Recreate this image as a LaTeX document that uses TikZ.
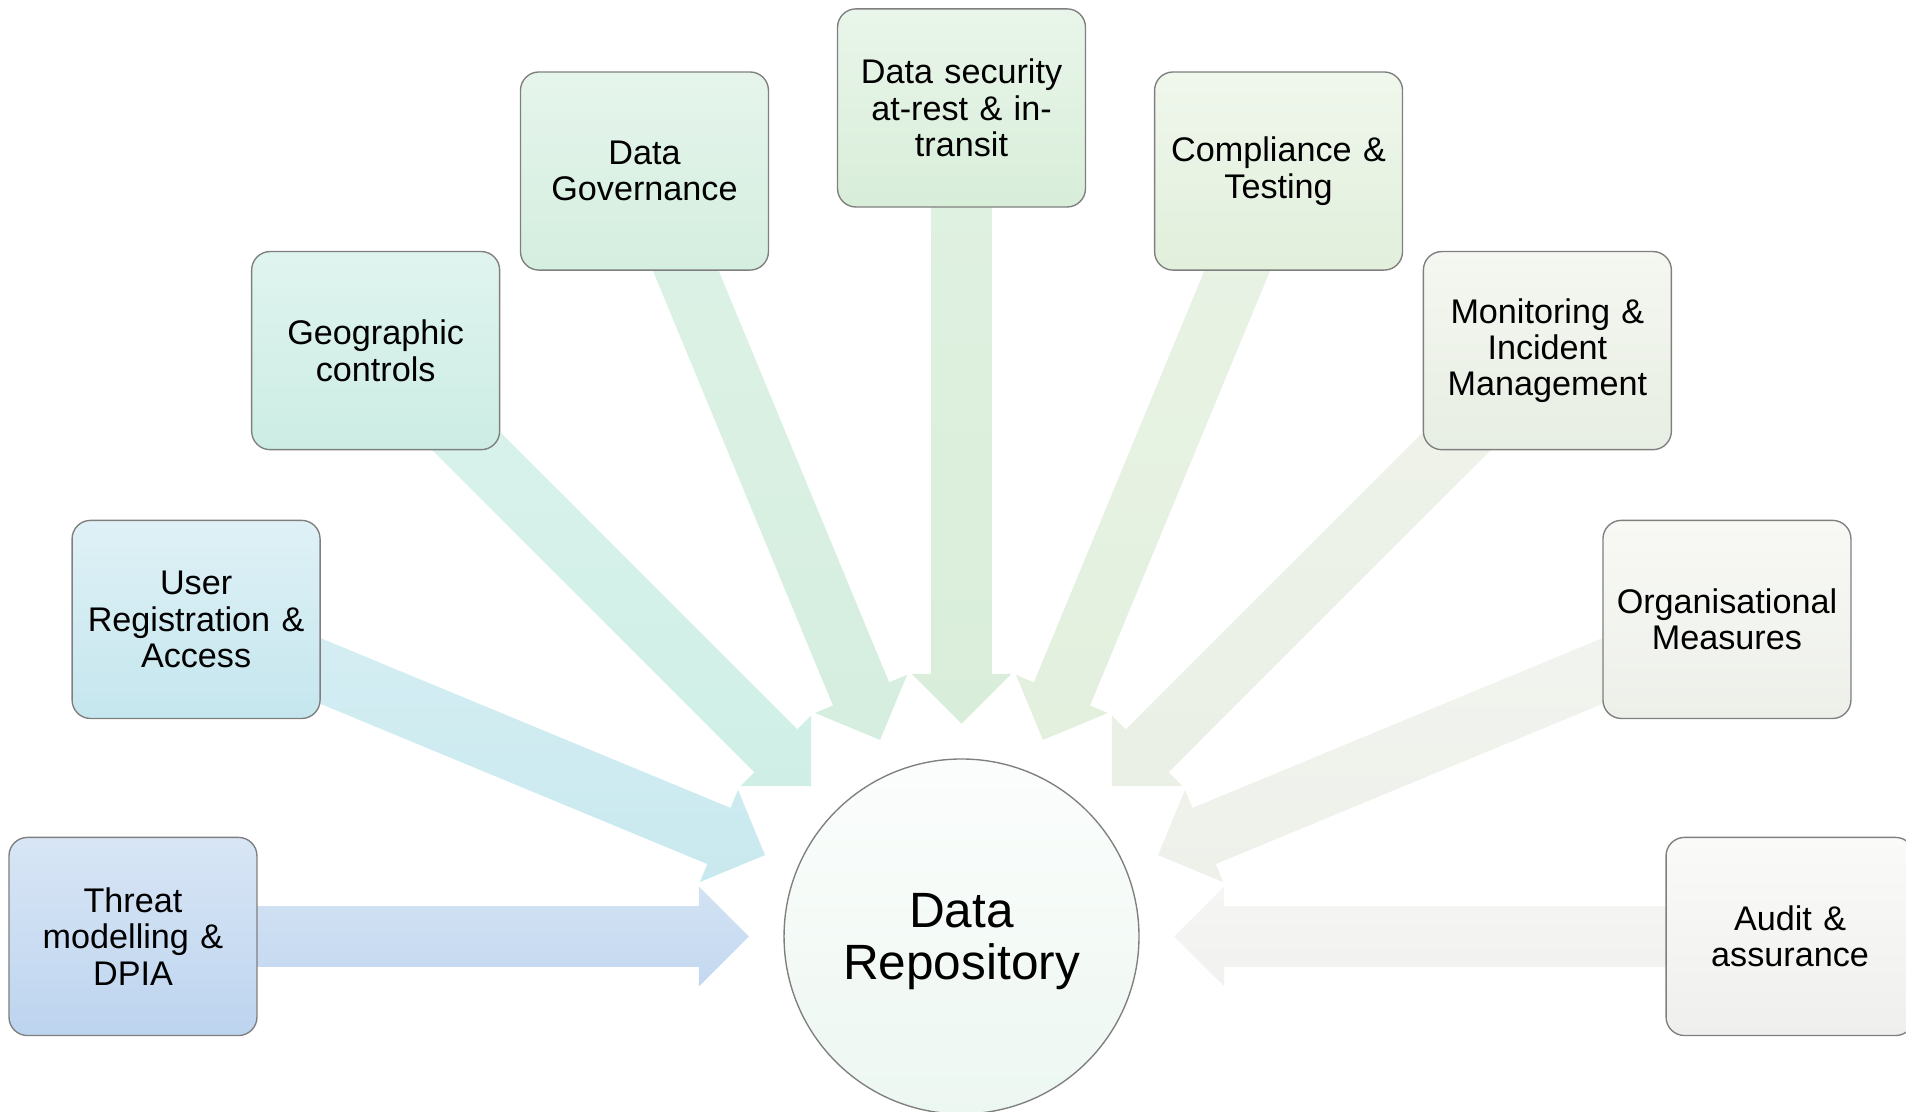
\documentclass[tikz,border=0pt]{standalone}
\usepackage{fontspec}
\setmainfont{Liberation Sans}
\usetikzlibrary{calc}
\pgfdeclarelayer{bg}
\pgfsetlayers{bg,main}

% box fills (top / bottom)
\definecolor{thrT}{HTML}{D8E6F5}\definecolor{thrB}{HTML}{BDD4EF}
\definecolor{usrT}{HTML}{DFF1F6}\definecolor{usrB}{HTML}{C5E6EE}
\definecolor{geoT}{HTML}{E0F4EF}\definecolor{geoB}{HTML}{CCEDE4}
\definecolor{govT}{HTML}{E6F5EC}\definecolor{govB}{HTML}{D4EEDF}
\definecolor{secT}{HTML}{E9F5EA}\definecolor{secB}{HTML}{D8EED9}
\definecolor{cmpT}{HTML}{F0F7ED}\definecolor{cmpB}{HTML}{E1EFDB}
\definecolor{monT}{HTML}{F5F7F1}\definecolor{monB}{HTML}{E7EEE3}
\definecolor{orgT}{HTML}{F8F9F5}\definecolor{orgB}{HTML}{EDEFE9}
\definecolor{audT}{HTML}{FAFAF9}\definecolor{audB}{HTML}{EFEFED}
% arrow fills (top / bottom)
\definecolor{thrAT}{HTML}{D3E2F4}\definecolor{thrAB}{HTML}{C3D8F0}
\definecolor{usrAT}{HTML}{D6EEF3}\definecolor{usrAB}{HTML}{C8E9EF}
\definecolor{geoAT}{HTML}{DAF3EC}\definecolor{geoAB}{HTML}{CFEFE6}
\definecolor{govAT}{HTML}{DDF2E6}\definecolor{govAB}{HTML}{D5EEDF}
\definecolor{secAT}{HTML}{E0F1E1}\definecolor{secAB}{HTML}{D9EEDA}
\definecolor{cmpAT}{HTML}{E9F3E5}\definecolor{cmpAB}{HTML}{E3F0DE}
\definecolor{monAT}{HTML}{EFF3EA}\definecolor{monAB}{HTML}{EAF0E5}
\definecolor{orgAT}{HTML}{F2F4EF}\definecolor{orgAB}{HTML}{EEF0EA}
\definecolor{audAT}{HTML}{F5F5F3}\definecolor{audAB}{HTML}{F1F1EF}
\definecolor{repT}{HTML}{FBFDFC}\definecolor{repB}{HTML}{EDF7F1}
\definecolor{edge}{HTML}{7F7F7F}

\tikzset{
  topic/.style={draw=edge, line width=0.8pt, rounded corners=0.38cm,
    minimum width=5.1cm, minimum height=4.075cm, text width=4.9cm,
    align=center, inner sep=0pt,
    font=\fontsize{20}{21.3}\selectfont},
  hub/.style={circle, draw=edge, line width=0.8pt, minimum size=7.3cm,
    inner sep=0pt, top color=repT, bottom color=repB},
  hubtext/.style={align=center, inner sep=0pt,
    font=\fontsize{29}{30.6}\selectfont},
}

\begin{document}
\begin{tikzpicture}
\useasboundingbox (0,0) rectangle (39.2,22.85);
\clip (0,0) rectangle (39.2,22.85);

% central repository
\node[hub] (c) at (19.775,3.59) {};
\node[hubtext] (ctext) at ($(c.center)+(0,-0.1)$) {Data\\Repository};

% the nine controls, spaced every 22.5 degrees round the repository
\node[topic, top color=thrT, bottom color=thrB] (thr) at ($(c.center)+(180:17.04)$) {Threat\\modelling \&\\DPIA};
\node[topic, top color=usrT, bottom color=usrB] (usr) at ($(c.center)+(157.5:17.04)$) {User\\Registration \&\\Access};
\node[topic, top color=geoT, bottom color=geoB] (geo) at ($(c.center)+(135:17.04)$) {Geographic\\controls};
\node[topic, top color=govT, bottom color=govB] (gov) at ($(c.center)+(112.5:17.04)$) {Data\\Governance};
\node[topic, top color=secT, bottom color=secB] (sec) at ($(c.center)+(90:17.04)$) {Data security\\at-rest \& in-\\transit};
\node[topic, top color=cmpT, bottom color=cmpB] (cmp) at ($(c.center)+(67.5:17.04)$) {Compliance \&\\Testing};
\node[topic, top color=monT, bottom color=monB] (mon) at ($(c.center)+(45:17.04)$) {Monitoring \&\\Incident\\Management};
\node[topic, top color=orgT, bottom color=orgB] (org) at ($(c.center)+(22.5:17.04)$) {Organisational\\Measures};
\node[topic, top color=audT, bottom color=audB] (aud) at ($(c.center)+(0:17.04)$) {Audit \&\\assurance};

% block arrows from each control into the repository
\begin{pgfonlayer}{bg}
\foreach \b in {thr,usr,geo,gov,sec,cmp,mon,org,aud} {
  \coordinate (t) at ($(c.center)!4.375cm!(\b.center)$);
  \coordinate (h) at ($(c.center)!5.4cm!(\b.center)$);
  \coordinate (e) at ($(c.center)!16.5cm!(\b.center)$);
  \path[top color=\b AT, bottom color=\b AB]
    (t) -- ($(h)!1.025cm!90:(\b.center)$)
        -- ($(h)!0.625cm!90:(\b.center)$)
        -- ($(e)!0.625cm!-90:(c.center)$)
        -- ($(e)!0.625cm!90:(c.center)$)
        -- ($(h)!0.625cm!-90:(\b.center)$)
        -- ($(h)!1.025cm!-90:(\b.center)$) -- cycle;
}
\end{pgfonlayer}
\end{tikzpicture}
\end{document}
